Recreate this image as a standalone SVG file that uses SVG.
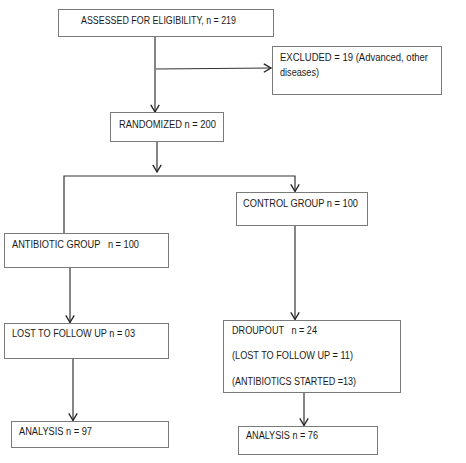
<svg xmlns="http://www.w3.org/2000/svg" width="466" height="463" viewBox="0 0 466 463">
<style>
.box{fill:#fff;stroke:#7a7a7a;stroke-width:1}
.t{font-family:"Liberation Sans",Arial,sans-serif;font-size:10px;fill:#1a1a1a}
.c{fill:none;stroke:#333;stroke-width:1.2}
</style>
<defs>
<marker id="a" markerUnits="userSpaceOnUse" markerWidth="12" markerHeight="12" viewBox="-7 -5 8 10" refX="0" refY="0" orient="auto" overflow="visible">
<path d="M-6,-3.5 L0,0 L-6,3.5" fill="none" stroke="#222" stroke-width="1.1"/>
</marker>
</defs>
<rect width="466" height="463" fill="#fff"/>
<g id="connectors">
<line class="c" x1="155" y1="36" x2="155" y2="112" marker-end="url(#a)"/>
<line class="c" x1="156" y1="69" x2="271" y2="68" marker-end="url(#a)"/>
<line class="c" x1="157" y1="141" x2="157" y2="172" marker-end="url(#a)"/>
<polyline class="c" points="64,233 64,176 295,176 295,191.5" marker-end="url(#a)"/>
<line class="c" x1="70" y1="268" x2="70" y2="322.5" marker-end="url(#a)"/>
<line class="c" x1="295" y1="225" x2="295" y2="319.5" marker-end="url(#a)"/>
<line class="c" x1="73" y1="358" x2="73" y2="420.5" marker-end="url(#a)"/>
<line class="c" x1="304" y1="392" x2="304" y2="425.5" marker-end="url(#a)"/>
</g>
<g id="assessed">
<rect class="box" x="58.5" y="9.5" width="215" height="27"/>
<text class="t" x="81" y="23.5" textLength="155" lengthAdjust="spacingAndGlyphs">ASSESSED FOR ELIGIBILITY, n = 219</text>
</g>
<g id="excluded">
<rect class="box" x="272.5" y="46.5" width="169" height="48"/>
<text class="t" x="280" y="60.5" textLength="148" lengthAdjust="spacingAndGlyphs">EXCLUDED = 19 (Advanced, other</text>
<text class="t" x="280" y="75.5" textLength="39" lengthAdjust="spacingAndGlyphs">diseases)</text>
</g>
<g id="randomized">
<rect class="box" x="110.5" y="112.5" width="113" height="29"/>
<text class="t" x="119" y="128" textLength="97" lengthAdjust="spacingAndGlyphs">RANDOMIZED n = 200</text>
</g>
<g id="control">
<rect class="box" x="236.5" y="192.5" width="131" height="33"/>
<text class="t" x="243" y="206.5" textLength="115" lengthAdjust="spacingAndGlyphs">CONTROL GROUP n = 100</text>
</g>
<g id="antibiotic">
<rect class="box" x="4.5" y="233.5" width="164" height="34"/>
<text class="t" x="12" y="248" xml:space="preserve" textLength="127" lengthAdjust="spacingAndGlyphs">ANTIBIOTIC GROUP   n = 100</text>
</g>
<g id="lost">
<rect class="box" x="4.5" y="323.5" width="164" height="35"/>
<text class="t" x="12" y="337" textLength="123" lengthAdjust="spacingAndGlyphs">LOST TO FOLLOW UP n = 03</text>
</g>
<g id="dropout">
<rect class="box" x="223.5" y="320.5" width="177" height="72"/>
<text class="t" x="232" y="334" xml:space="preserve" textLength="85" lengthAdjust="spacingAndGlyphs">DROUPOUT   n = 24</text>
<text class="t" x="232" y="359" textLength="121" lengthAdjust="spacingAndGlyphs">(LOST TO FOLLOW UP = 11)</text>
<text class="t" x="232" y="385" textLength="124" lengthAdjust="spacingAndGlyphs">(ANTIBIOTICS STARTED =13)</text>
</g>
<g id="analysis97">
<rect class="box" x="11.5" y="421.5" width="157" height="26"/>
<text class="t" x="19" y="435" textLength="73" lengthAdjust="spacingAndGlyphs">ANALYSIS n = 97</text>
</g>
<g id="analysis76">
<rect class="box" x="238.5" y="426.5" width="139" height="28"/>
<text class="t" x="246" y="439" textLength="72" lengthAdjust="spacingAndGlyphs">ANALYSIS n = 76</text>
</g>
</svg>
